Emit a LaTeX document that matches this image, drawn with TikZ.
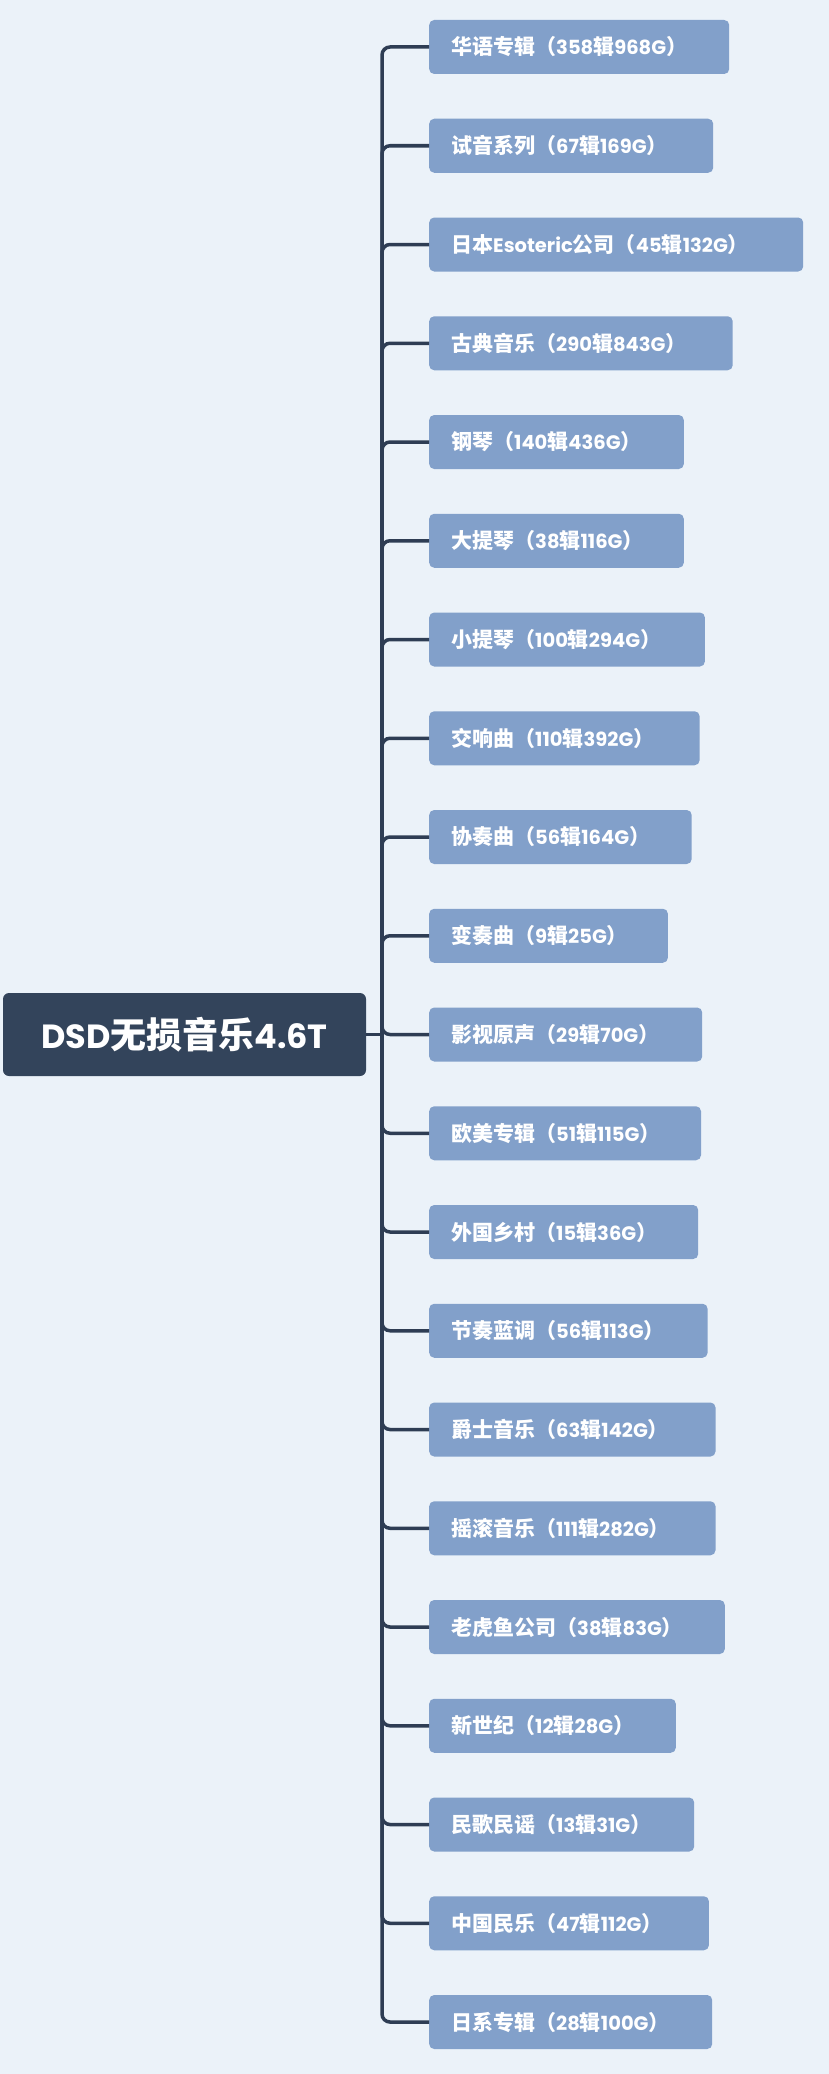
\documentclass[tikz,border=0pt]{standalone}
\usepackage{fontspec}
\setmainfont{Noto Sans CJK SC}
\newfontfamily\lat{Poppins}
\definecolor{bgc}{HTML}{EBF2F9}
\definecolor{leafc}{HTML}{82A0CA}
\definecolor{rootc}{HTML}{33445B}
\definecolor{linec}{HTML}{2E3D54}
\tikzset{
  leafbox/.style={fill=leafc, rounded corners=5pt, anchor=west, minimum height=54pt,
    inner xsep=22pt, inner ysep=0pt, text=white, font=\fontsize{21}{24}\selectfont\bfseries},
  rootbox/.style={fill=rootc, rounded corners=6pt, minimum width=363pt, minimum height=83pt,
    inner sep=0pt, text=white, font=\fontsize{36}{40}\selectfont\bfseries},
  conn/.style={draw=linec, line width=3.5pt, rounded corners=8pt},
}
\newcommand{\lt}[1]{{\lat\fontsize{19.5}{24}\selectfont\bfseries #1}}
\newcommand{\lr}[1]{{\lat\fontsize{33.5}{40}\selectfont\bfseries #1}}
\newcommand{\leafnode}[4]{%
  \node[leafbox] (#1) at (429,#2) {\makebox[\dimexpr #3pt-44pt\relax][l]{#4}};
  \draw[conn] (j) |- (#1.west);
}
\begin{document}
\begin{tikzpicture}[x=1pt,y=-1pt]
\useasboundingbox[fill=bgc] (0,0) rectangle (829,2074);
\node[rootbox] (root) at (184.5,1034.5) {\lr{DSD}无损音乐\lr{4.6T}};
\coordinate (j) at (382,1034.5);
\draw[conn] (root.east) -- (j);
\leafnode{n1}{47}{300}{华语专辑（\lt{358}辑\lt{968G}）}
\leafnode{n2}{145.75}{284}{试音系列（\lt{67}辑\lt{169G}）}
\leafnode{n3}{244.5}{374}{日本\lt{Esoteric}公司（\lt{45}辑\lt{132G}）}
\leafnode{n4}{343.25}{303.5}{古典音乐（\lt{290}辑\lt{843G}）}
\leafnode{n5}{442}{254.6}{钢琴（\lt{140}辑\lt{436G}）}
\leafnode{n6}{540.75}{254.6}{大提琴（\lt{38}辑\lt{116G}）}
\leafnode{n7}{639.5}{275.7}{小提琴（\lt{100}辑\lt{294G}）}
\leafnode{n8}{738.25}{270.4}{交响曲（\lt{110}辑\lt{392G}）}
\leafnode{n9}{837}{262.5}{协奏曲（\lt{56}辑\lt{164G}）}
\leafnode{n10}{935.75}{238.7}{变奏曲（\lt{9}辑\lt{25G}）}
\leafnode{n11}{1034.5}{273}{影视原声（\lt{29}辑\lt{70G}）}
\leafnode{n12}{1133.25}{271.8}{欧美专辑（\lt{51}辑\lt{115G}）}
\leafnode{n13}{1232}{269}{外国乡村（\lt{15}辑\lt{36G}）}
\leafnode{n14}{1330.75}{278.4}{节奏蓝调（\lt{56}辑\lt{113G}）}
\leafnode{n15}{1429.5}{286.3}{爵士音乐（\lt{63}辑\lt{142G}）}
\leafnode{n16}{1528.25}{286.3}{摇滚音乐（\lt{111}辑\lt{282G}）}
\leafnode{n17}{1627}{295.6}{老虎鱼公司（\lt{38}辑\lt{83G}）}
\leafnode{n18}{1725.75}{246.6}{新世纪（\lt{12}辑\lt{28G}）}
\leafnode{n19}{1824.5}{265}{民歌民谣（\lt{13}辑\lt{31G}）}
\leafnode{n20}{1923.25}{279.7}{中国民乐（\lt{47}辑\lt{112G}）}
\leafnode{n21}{2022}{283}{日系专辑（\lt{28}辑\lt{100G}）}
\end{tikzpicture}
\end{document}
